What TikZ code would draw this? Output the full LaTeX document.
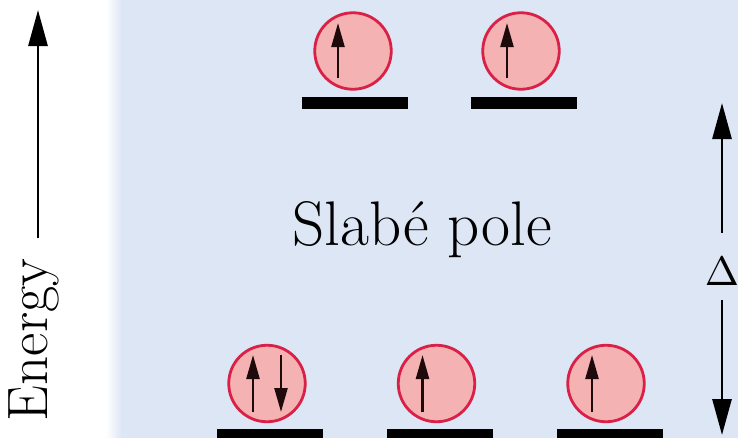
\documentclass[tikz,border=0pt]{standalone}
\usepackage{fontspec}
\usetikzlibrary{arrows.meta}
\definecolor{bgblue}{RGB}{220,230,244}
\definecolor{orbfill}{RGB}{245,178,178}
\definecolor{orbedge}{RGB}{218,32,70}
\definecolor{spinink}{RGB}{30,10,10}
\begin{document}
\begin{tikzpicture}[x=1pt,y=-1pt,
  orb/.style={circle, draw=orbedge, fill=orbfill, line width=2.8pt, minimum size=76.5pt, inner sep=0pt},
  level/.style={fill=black, minimum width=106pt, minimum height=12pt, inner sep=0pt},
  spin/.style={line width=2.4pt, draw=spinink, -{Triangle[length=24pt,width=13pt]}},
  bigarrow/.style={line width=2.8pt, draw=black, -{Triangle[length=36pt,width=19pt]}},
  lbl/.style={inner sep=0pt}]
\useasboundingbox (0,0) rectangle (738,437);
\shade[left color=white, right color=bgblue] (106,-2) rectangle (122,440);
\fill[bgblue] (121.5,-2) rectangle (740,440);

% top levels
\node[level] (t1) at (355,103) {};
\node[level] (t2) at (524,103) {};
\node[orb] (ot1) at (353,51) {};
\node[orb] (ot2) at (521,51) {};
\draw[spin] ([xshift=-15pt,yshift=-27pt]ot1.center) -- ([xshift=-15pt,yshift=28pt]ot1.center);
\draw[spin] ([xshift=-14pt,yshift=-27pt]ot2.center) -- ([xshift=-14pt,yshift=28pt]ot2.center);

% bottom levels
\node[level] (b1) at (270,435) {};
\node[level] (b2) at (439.5,435) {};
\node[level] (b3) at (609.5,435) {};
\node[orb] (ob1) at (267,383.5) {};
\node[orb] (ob2) at (436.5,383.5) {};
\node[orb] (ob3) at (606,383.5) {};
\draw[spin] ([xshift=-14pt,yshift=-28.5pt]ob1.center) -- ([xshift=-14pt,yshift=28.5pt]ob1.center);
\draw[spin] ([xshift=14pt,yshift=28.5pt]ob1.center) -- ([xshift=14pt,yshift=-28.5pt]ob1.center);
\draw[spin] ([xshift=-14pt,yshift=-28.5pt]ob2.center) -- ([xshift=-14pt,yshift=28.5pt]ob2.center);
\draw[spin] ([xshift=-14pt,yshift=-28.5pt]ob3.center) -- ([xshift=-14pt,yshift=28.5pt]ob3.center);

% title
\node[lbl, anchor=base] (title) at (422,245) {\fontsize{63}{70}\selectfont Slabé pole};

% energy axis
\node[lbl, rotate=90, anchor=base] (energy) at (47,340) {\fontsize{57}{62}\selectfont Energy};
\coordinate (ebase) at (38,238);
\coordinate (etip) at (38,10);
\draw[bigarrow] (ebase) -- (etip);

% delta
\node[lbl] (delta) at (722,271) {\scalebox{4.1}{$\Delta$}};
\coordinate (dup0) at (722,233);
\coordinate (dup1) at (722,103);
\coordinate (ddn0) at (722,300);
\coordinate (ddn1) at (722,435);
\draw[bigarrow] (dup0) -- (dup1);
\draw[bigarrow] (ddn0) -- (ddn1);
\end{tikzpicture}
\end{document}
